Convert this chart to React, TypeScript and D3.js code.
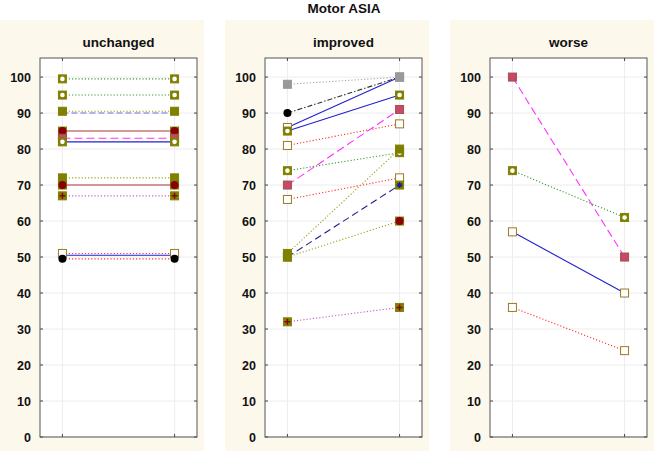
import React from 'react';
import * as d3 from 'd3';

// before / after scores for each patient, one array per panel
const panelTitles = ['unchanged', 'improved', 'worse'];
const yTicks = [0, 10, 20, 30, 40, 50, 60, 70, 80, 90, 100];

const unchangedValues = [
  [99.5, 99.5], [95, 95], [90.5, 90.5], [90, 90], [85, 85], [83, 83], [82, 82],
  [72, 72], [70, 70], [67, 67], [51, 51], [50.5, 50.5], [49.5, 49.5],
];
const unchangedLines = ['gdot', 'gdot', 'odot', 'bdash', 'brsolid', 'mdash', 'bsolid',
  'odot', 'brsolid', 'pdot', 'rdot', 'bsolid', 'rdot'];
const unchangedMarks = ['oc', 'oc', 'os', 'none', 'rc', 'ps', 'oc',
  'os', 'rc', 'xp', 'ws', 'none', 'k'];

const improvedValues = [
  [98, 100], [90, 100], [86, 100], [85, 95], [81, 87], [70, 91], [74, 79],
  [66, 72], [51, 80], [50, 70], [50, 60], [32, 36],
];
const improvedLines = ['grdot', 'kdashdot', 'bsolid', 'bsolid', 'rdot', 'mdash', 'gdot',
  'rdot', 'odot', 'ndash', 'odot', 'pdot'];
const improvedMarks = [['gs', 'gs'], ['k', 'gs'], ['ws', 'gs'], ['oc', 'oc'], ['ws', 'ws'],
  ['ps', 'ps'], ['oc', 'oc'], ['ws', 'ws'], ['os', 'os'], ['bp', 'bp'], ['os', 'rc'], ['xp', 'xp']];

const worseValues = [[100, 50], [74, 61], [57, 40], [36, 24]];
const worseLines = ['mdash', 'gdot', 'bsolid', 'rdot'];
const worseMarks = ['ps', 'oc', 'ws', 'ws'];

const lineStyles: Record<string, { stroke: string; dash: string | null }> = {
  gdot: { stroke: '#3a9a3a', dash: '1.2,2' },
  odot: { stroke: '#a0a020', dash: '1.2,2' },
  bdash: { stroke: '#6f6fe8', dash: '6,3' },
  brsolid: { stroke: '#a83838', dash: null },
  mdash: { stroke: '#ff30ff', dash: '8,4' },
  bsolid: { stroke: '#2020d0', dash: null },
  pdot: { stroke: '#c060c8', dash: '1.2,2' },
  rdot: { stroke: '#ff3030', dash: '1.2,2' },
  kdashdot: { stroke: '#333333', dash: '5,2,1.5,2' },
  grdot: { stroke: '#a8a8a8', dash: '1.2,2' },
  ndash: { stroke: '#20208a', dash: '7,4' },
};

const OLIVE = '#808000';

const Marker = ({ kind, x, y }: { kind: string; x: number; y: number }) => {
  const s = 8;
  if (kind === 'none') return null;
  const sq = (fill: string, stroke = OLIVE) => (
    <rect x={x - s / 2} y={y - s / 2} width={s} height={s} fill={fill} stroke={stroke} strokeWidth={1} />
  );
  switch (kind) {
    case 'oc':
      return <g>{sq(OLIVE)}<circle cx={x} cy={y} r={2.3} fill="#fff" /></g>;
    case 'os':
      return sq(OLIVE);
    case 'rc':
      return <g>{sq(OLIVE)}<circle cx={x} cy={y} r={4} fill="#8b0000" /></g>;
    case 'ps':
      return sq('#c84868', '#a05050');
    case 'ws':
      return sq('#ffffff', '#9a7a20');
    case 'xp':
      return <g>{sq(OLIVE)}<path d={`M${x - 3},${y}H${x + 3}M${x},${y - 3}V${y + 3}`} stroke="#8b0000" strokeWidth={1.5} /></g>;
    case 'bp':
      return <g>{sq(OLIVE)}<path d={`M${x - 3},${y}H${x + 3}M${x},${y - 3}V${y + 3}M${x - 2},${y - 2}L${x + 2},${y + 2}M${x - 2},${y + 2}L${x + 2},${y - 2}`} stroke="#1a1a90" strokeWidth={1.2} /></g>;
    case 'k':
      return <circle cx={x} cy={y} r={4} fill="#000" />;
    case 'gs':
      return <rect x={x - s / 2} y={y - s / 2} width={s} height={s} fill="#999" stroke="#999" />;
    default:
      return null;
  }
};

const panels = [
  { values: unchangedValues, lines: unchangedLines, marks: unchangedMarks.map(m => [m, m]) },
  { values: improvedValues, lines: improvedLines, marks: improvedMarks },
  { values: worseValues, lines: worseLines, marks: worseMarks.map(m => [m, m]) },
];

const Panel = ({ index }: { index: number }) => {
  const left = 40 + index * 225;
  const plotW = 157;
  const top = 58;
  const bottom = 437;
  const x = d3.scaleLinear().domain([0.8, 2.2]).range([left, left + plotW]);
  const y = d3.scaleLinear().domain([0, 105.3]).range([bottom, top]);
  const p = panels[index];
  const tickLen = 3;

  return (
    <g>
      <rect x={left - 40} y={20} width={204} height={431} fill="#fdf8ec" />
      <rect x={left} y={top} width={plotW} height={bottom - top} fill="#fff" />
      {/* grid */}
      {yTicks.map(t => (
        <line key={t} x1={left} x2={left + plotW} y1={y(t)} y2={y(t)} stroke="#ececec" strokeWidth={1} />
      ))}
      {[1, 2].map(t => (
        <line key={t} x1={x(t)} x2={x(t)} y1={top} y2={bottom} stroke="#ececec" strokeWidth={1} />
      ))}
      {/* ticks */}
      {yTicks.map(t => (
        <g key={t}>
          <line x1={left} x2={left + tickLen} y1={y(t)} y2={y(t)} stroke="#444" />
          <line x1={left + plotW - tickLen} x2={left + plotW} y1={y(t)} y2={y(t)} stroke="#444" />
          <text x={left - 9} y={y(t)} dy="0.36em" textAnchor="end" fontSize={12.5} fontWeight="bold"
            fontFamily="'Liberation Sans', Arial, sans-serif" fill="#111">{t}</text>
        </g>
      ))}
      {[1, 2].map(t => (
        <g key={t}>
          <line x1={x(t)} x2={x(t)} y1={bottom} y2={bottom - tickLen} stroke="#444" />
          <line x1={x(t)} x2={x(t)} y1={top} y2={top + tickLen} stroke="#444" />
        </g>
      ))}
      <rect x={left} y={top} width={plotW} height={bottom - top} fill="none" stroke="#555" strokeWidth={1} />
      <text x={left + plotW / 2} y={42} dy="0.35em" textAnchor="middle" fontSize={13.5} fontWeight="bold"
        fontFamily="'Liberation Sans', Arial, sans-serif" fill="#111">{panelTitles[index]}</text>
      {/* series lines */}
      {p.values.map((v, i) => {
        const st = lineStyles[p.lines[i]];
        return (
          <line key={i} x1={x(1)} y1={y(v[0])} x2={x(2)} y2={y(v[1])} stroke={st.stroke}
            strokeWidth={1.1} strokeDasharray={st.dash ?? undefined} />
        );
      })}
      {/* markers */}
      {p.values.map((v, i) => (
        <g key={i}>
          <Marker kind={p.marks[i][0]} x={x(1)} y={y(v[0])} />
          <Marker kind={p.marks[i][1]} x={x(2)} y={y(v[1])} />
        </g>
      ))}
    </g>
  );
};

export default function App() {
  return (
    <svg width={655} height={451} style={{ position: 'absolute', left: 0, top: 0, background: '#fff' }}>
      <text x={344} y={8} dy="0.35em" textAnchor="middle" fontSize={13.5} fontWeight="bold"
        fontFamily="'Liberation Sans', Arial, sans-serif" fill="#111">Motor ASIA</text>
      {[0, 1, 2].map(i => <Panel key={i} index={i} />)}
    </svg>
  );
}
